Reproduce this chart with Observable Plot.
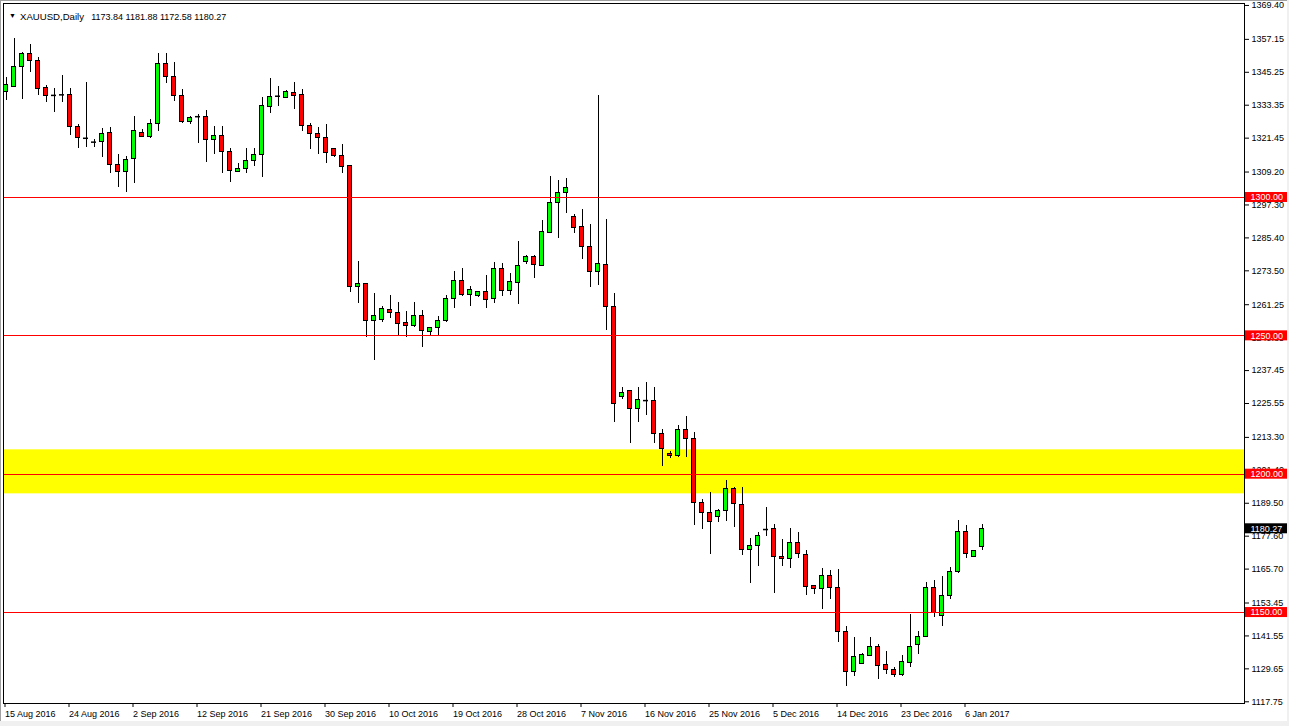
<!DOCTYPE html>
<html>
<head>
<meta charset="utf-8">
<script src="https://cdn.jsdelivr.net/npm/d3@7"></script>
<script src="https://cdn.jsdelivr.net/npm/@observablehq/plot@0.6"></script>
<style>
  html, body { margin: 0; padding: 0; background: #F0F0F0; }
  #wrap { position: absolute; left: 0; top: 0; width: 1289px; height: 726px; overflow: hidden; }
  #chart { position: absolute; left: 0; top: 0; }
  #chart svg { display: block; }
  #edge { position: absolute; left: 0; top: 0; width: 1287px; height: 721px; box-sizing: border-box;
          border-left: 1px solid #A0A0A0; border-top: 1px solid #A0A0A0; pointer-events: none; }
</style>
</head>
<body>
<div id="wrap"><div id="chart"></div><div id="edge"></div></div>
<script>
// ---- data ----
const symbolName = "XAUUSD,Daily";

const opens = [
  1338.1,1340.1,1347.1,1351.7,1349.5,1339.6,1336.9,1337.1,1337.1,1325.4,
  1321.4,1320.0,1320.0,1323.4,1311.9,1309.2,1314.0,1323.4,1321.8,1326.6,
  1348.3,1343.7,1336.7,1327.2,1329.2,1329.2,1320.6,1322.3,1316.4,1309.3,
  1310.4,1313.3,1315.4,1332.8,1336.6,1336.0,1337.8,1336.9,1326.0,1323.0,
  1321.6,1317.6,1315.1,1311.4,1267.6,1268.8,1255.3,1255.8,1259.4,1258.3,
  1254.5,1253.5,1257.0,1251.3,1252.9,1255.3,1263.4,1270.0,1264.7,1264.3,
  1265.9,1263.4,1274.2,1266.3,1269.2,1276.6,1278.6,1275.4,1287.1,1298.1,
  1301.7,1293.1,1289.2,1282.2,1273.0,1275.7,1260.5,1227.8,1229.9,1223.6,
  1226.6,1226.6,1214.6,1207.4,1206.4,1216.0,1212.8,1189.7,1186.0,1184.6,
  1186.6,1194.7,1188.9,1172.7,1174.1,1180.0,1180.3,1170.0,1169.4,1175.2,
  1170.9,1159.7,1158.6,1163.3,1158.9,1142.9,1128.5,1131.5,1134.3,1137.4,
  1130.9,1129.4,1127.3,1131.8,1138.1,1141.0,1158.7,1148.6,1155.8,1164.5,
  1179.2,1170.0,1173.84
];
const highs = [
  1343.5,1357.6,1352.5,1355.3,1350.7,1340.5,1339.3,1344.1,1339.3,1326.4,
  1341.7,1320.8,1324.8,1325.2,1315.5,1314.8,1329.3,1324.5,1328.2,1352.2,
  1352.2,1348.8,1339.0,1329.3,1330.0,1331.4,1325.7,1325.7,1317.6,1312.2,
  1317.6,1317.6,1336.0,1343.0,1340.1,1338.7,1341.7,1339.0,1326.9,1325.4,
  1326.5,1317.6,1319.2,1311.6,1277.0,1269.0,1265.4,1260.5,1264.6,1262.1,
  1258.8,1262.1,1259.2,1253.0,1257.1,1264.6,1273.3,1274.3,1267.8,1266.2,
  1271.8,1276.4,1276.2,1272.4,1284.2,1279.2,1278.9,1291.7,1307.7,1306.1,
  1306.9,1293.9,1295.7,1290.4,1336.9,1292.1,1265.2,1231.5,1230.3,1231.5,
  1233.1,1231.5,1216.2,1208.3,1217.6,1220.9,1215.0,1190.7,1193.3,1187.1,
  1197.7,1195.3,1195.2,1176.6,1178.9,1187.8,1181.8,1176.3,1180.3,1178.8,
  1172.4,1159.8,1165.8,1165.2,1165.5,1145.0,1141.0,1135.2,1141.0,1138.6,
  1135.8,1130.3,1134.6,1149.4,1143.3,1160.8,1161.7,1162.9,1166.4,1183.4,
  1181.6,1172.4,1181.88
];
const lows = [
  1335.1,1339.9,1335.3,1345.3,1336.9,1334.2,1330.8,1334.5,1322.4,1317.6,
  1318.0,1318.0,1314.3,1308.6,1303.5,1301.9,1305.2,1321.8,1321.2,1324.0,
  1341.1,1334.8,1326.9,1326.4,1319.6,1312.8,1315.4,1308.8,1305.5,1309.2,
  1308.6,1311.3,1307.4,1330.5,1332.9,1335.7,1331.9,1324.0,1317.5,1315.5,
  1312.4,1314.6,1308.8,1265.8,1261.8,1249.5,1241.1,1255.0,1256.4,1250.1,
  1249.5,1252.9,1245.9,1250.1,1250.1,1255.0,1260.0,1264.2,1260.7,1264.0,
  1260.0,1261.8,1264.3,1264.6,1261.5,1275.9,1270.7,1275.1,1286.9,1285.3,
  1294.3,1287.1,1277.6,1267.6,1268.2,1251.9,1218.8,1227.0,1211.2,1218.8,
  1221.2,1211.0,1202.9,1205.6,1206.0,1206.2,1181.5,1180.1,1170.9,1182.7,
  1183.0,1180.9,1170.7,1160.6,1166.7,1177.6,1157.0,1166.7,1165.8,1169.4,
  1156.2,1156.5,1151.2,1154.6,1139.3,1123.1,1127.0,1131.4,1134.0,1125.8,
  1127.7,1126.5,1126.8,1130.0,1134.9,1141.0,1148.1,1145.1,1154.8,1164.0,
  1169.5,1170.0,1172.58
];
const closes = [
  1340.5,1347.3,1351.7,1349.3,1339.3,1336.6,1336.9,1337.1,1325.4,1321.6,
  1321.4,1320.0,1323.0,1311.8,1309.2,1313.6,1324.2,1321.9,1326.6,1348.3,
  1343.5,1336.6,1327.2,1328.9,1329.2,1320.6,1322.4,1316.4,1309.5,1310.4,
  1313.3,1315.4,1332.9,1336.4,1336.6,1338.0,1336.7,1325.9,1323.0,1321.6,
  1316.1,1314.9,1311.0,1267.6,1268.8,1255.3,1257.0,1259.8,1258.2,1254.3,
  1253.5,1257.0,1251.7,1252.9,1255.4,1263.4,1270.0,1264.6,1266.4,1265.9,
  1263.0,1274.2,1266.3,1269.3,1275.3,1278.6,1275.7,1287.4,1298.1,1301.7,
  1303.6,1288.9,1282.1,1273.0,1276.1,1260.4,1225.4,1229.4,1223.6,1226.9,
  1226.6,1214.6,1209.2,1206.4,1216.0,1212.8,1189.6,1186.0,1182.7,1186.6,
  1194.7,1189.1,1172.7,1173.9,1177.7,1180.0,1170.0,1169.4,1175.2,1171.0,
  1159.4,1158.6,1163.3,1158.8,1142.9,1128.5,1134.0,1134.5,1137.4,1130.8,
  1129.4,1127.3,1132.3,1137.6,1141.0,1158.7,1149.7,1155.8,1164.5,1179.2,
  1171.0,1172.4,1180.27
];

const dateLabels = ["15 Aug 2016","24 Aug 2016","2 Sep 2016","12 Sep 2016","21 Sep 2016",
  "30 Sep 2016","10 Oct 2016","19 Oct 2016","28 Oct 2016","7 Nov 2016","16 Nov 2016",
  "25 Nov 2016","5 Dec 2016","14 Dec 2016","23 Dec 2016","6 Jan 2017"];
const dateLabelBars = [0,8,16,24,32,40,48,56,64,72,80,88,96,104,112,120];

const priceTicks = [1369.40,1357.15,1345.25,1333.35,1321.45,1309.20,1297.30,1285.40,1273.50,
  1261.25,1249.35,1237.45,1225.55,1213.30,1201.40,1189.50,1177.60,1165.70,1153.45,1141.55,
  1129.65,1117.75];

const levelLines = [1300, 1250, 1200, 1150];
const zoneBounds = [1192.9, 1208.8];

// ---- build ----
const candles = opens.map((o, i) => ({i, open: o, high: highs[i], low: lows[i], close: closes[i]}));
const bodies = candles.filter(d => d.open !== d.close);
const dojis = candles.filter(d => d.open === d.close);
const last = candles[candles.length - 1];
const xMax = 154.8125;

const tags = [
  ...levelLines.map(v => ({v, bg: "#FF0000"})),
  {v: last.close, bg: "#000000"}
];

const chart = Plot.plot({
  width: 1287,
  height: 721,
  marginTop: 3,
  marginBottom: 18,
  marginLeft: 3,
  marginRight: 43,
  style: {fontFamily: "'Liberation Sans', Arial, sans-serif", fontSize: "9px", color: "black", background: "white", overflow: "visible"},
  x: {type: "linear", domain: [-0.3125, xMax], axis: null},
  y: {domain: [1117.13, 1370.11], axis: null},
  marks: [
    Plot.rect([zoneBounds], {y1: d => d[0], y2: d => d[1], fill: "#FFFF00"}),
    Plot.ruleX(candles, {x: "i", y1: "low", y2: "high", stroke: "black", shapeRendering: "crispEdges"}),
    Plot.rect(bodies, {
      x1: d => d.i - 0.5, x2: d => d.i + 0.5, y1: "open", y2: "close",
      insetLeft: 2, insetRight: 2,
      fill: d => d.close > d.open ? "#00FF00" : "#FF0000",
      stroke: "black", strokeWidth: 1, shapeRendering: "crispEdges"
    }),
    Plot.ruleY(dojis, {y: "open", x1: d => d.i - 0.5, x2: d => d.i + 0.5, insetLeft: 1.5, insetRight: 1.5, stroke: "black", strokeWidth: 1.5}),
    Plot.ruleY(levelLines, {stroke: "#FF0000", shapeRendering: "crispEdges"}),
    Plot.frame({stroke: "black", shapeRendering: "crispEdges"}),
    Plot.axisY(priceTicks, {anchor: "right", tickSize: 4, tickPadding: 3, tickFormat: d => d.toFixed(2), label: null, fill: "black", stroke: "black"}),
    Plot.axisX(dateLabelBars, {anchor: "bottom", tickSize: 4, tickPadding: 3, tickFormat: d => dateLabels[dateLabelBars.indexOf(d)], textAnchor: "start", dx: -1, label: null, fill: "black", stroke: "black"}),
    Plot.rect(tags, {x1: () => xMax, x2: () => xMax, y1: "v", y2: "v", insetLeft: 1, insetRight: -43, insetTop: -5, insetBottom: -5, fill: "bg"}),
    Plot.text(tags, {x: () => xMax, y: "v", text: d => d.v.toFixed(2), dx: 6, textAnchor: "start", fill: "white", fontSize: 9}),
    Plot.text(["\u25BC"], {frameAnchor: "top-left", dx: 9, dy: 9.5, text: d => d, textAnchor: "middle", fontSize: 7, fill: "black"}),
    Plot.text([symbolName], {frameAnchor: "top-left", dx: 16.5, dy: 10, text: d => d, textAnchor: "start", fontSize: 9.6, fill: "black"}),
    Plot.text([[last.open, last.high, last.low, last.close].map(v => v.toFixed(2)).join(" ")],
      {frameAnchor: "top-left", dx: 87.7, dy: 10, text: d => d, textAnchor: "start", fontSize: 9, fill: "black"})
  ]
});
document.getElementById("chart").appendChild(chart);
</script>
</body>
</html>
